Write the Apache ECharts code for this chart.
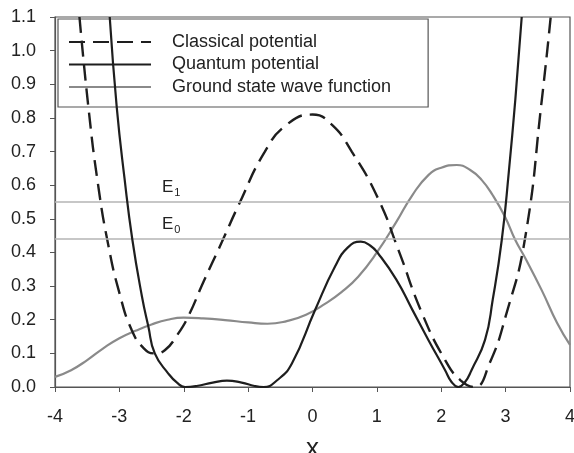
<!DOCTYPE html>
<html>
<head>
<meta charset="utf-8">
<script src="https://cdn.jsdelivr.net/npm/echarts@6/dist/echarts.min.js"></script>
<style>html,body{margin:0;padding:0;background:#fff}#c{width:574px;height:453px}</style>
</head>
<body>
<div id="c"></div>
<script>
const seriesNames = ['Classical potential', 'Quantum potential', 'Ground state wave function'];
const xTicks = [-4, -3, -2, -1, 0, 1, 2, 3, 4];
const energyLevels = [0.548, 0.442];
const energyLabels = ['1', '0'];

const classicalX = [-3.62,-3.48,-3.33,-3.17,-3.00,-2.81,-2.62,-2.45,-2.29,-2.10,-1.93,-1.70,-1.41,-1.15,-0.74,-0.40,0.00,0.30,0.61,1.02,1.33,1.70,2.06,2.30,2.52,2.75,3.00,3.30,3.56,3.70];
const classicalY = [1.10,0.83,0.60,0.42,0.28,0.17,0.115,0.10,0.11,0.155,0.21,0.31,0.43,0.54,0.70,0.78,0.81,0.78,0.70,0.56,0.41,0.22,0.08,0.02,0.00,0.07,0.21,0.44,0.85,1.10];

const quantumX = [-3.15,-3.04,-2.92,-2.80,-2.65,-2.55,-2.45,-2.24,-2.10,-1.98,-1.80,-1.55,-1.33,-1.10,-0.90,-0.76,-0.55,-0.32,0.04,0.35,0.55,0.75,0.90,1.02,1.30,1.55,1.80,2.06,2.16,2.265,2.37,2.47,2.68,2.80,2.94,3.05,3.15,3.25];
const quantumY = [1.10,0.83,0.62,0.44,0.27,0.18,0.10,0.04,0.012,0.00,0.003,0.013,0.019,0.013,0.003,0.00,0.02,0.07,0.229,0.358,0.415,0.432,0.42,0.397,0.32,0.23,0.14,0.05,0.015,0.00,0.015,0.05,0.14,0.26,0.437,0.64,0.853,1.10];

const groundX = [-4.00,-3.75,-3.50,-3.25,-3.00,-2.75,-2.50,-2.25,-2.00,-1.70,-1.36,-1.00,-0.70,-0.40,-0.10,0.20,0.45,0.71,1.00,1.30,1.55,1.80,2.00,2.24,2.45,2.63,2.80,2.99,3.15,3.30,3.56,3.80,4.00];
const groundY = [0.030,0.050,0.080,0.115,0.145,0.167,0.186,0.200,0.206,0.204,0.199,0.192,0.188,0.196,0.215,0.248,0.282,0.328,0.40,0.49,0.57,0.63,0.652,0.66,0.645,0.615,0.57,0.506,0.437,0.385,0.288,0.19,0.125];

const zip = (xs, ys) => xs.map((x, i) => [x, ys[i]]);
const font = 'Liberation Sans, Arial, sans-serif';

const chart = echarts.init(document.getElementById('c'), null, {renderer: 'canvas'});
chart.setOption({
  animation: false,
  backgroundColor: '#fff',
  grid: {left: 55, right: 4, top: 17, bottom: 66, containLabel: false, outerBoundsMode: 'none',
    show: true, borderColor: '#555', borderWidth: 1.2, backgroundColor: 'transparent'},
  legend: {
    left: 58, top: 19,
    orient: 'vertical',
    data: seriesNames,
    itemWidth: 82, itemHeight: 14, itemGap: 4.5,
    padding: [14, 37, 11, 10],
    borderColor: '#555', borderWidth: 1.2, backgroundColor: '#fff',
    itemStyle: {opacity: 0},
    textStyle: {fontFamily: font, fontSize: 18, lineHeight: 18, color: '#222', padding: [0, 0, 0, 16]}
  },
  xAxis: {
    type: 'value', min: -4, max: 4, interval: 1,
    name: 'x', nameLocation: 'middle', nameGap: 49,
    nameTextStyle: {fontFamily: font, fontSize: 26, color: '#222'},
    axisLine: {show: true, onZero: false, lineStyle: {color: '#555', width: 1.2}},
    axisTick: {show: true, inside: false, length: 5, lineStyle: {color: '#555'}},
    splitLine: {show: false},
    axisLabel: {fontFamily: font, fontSize: 18, color: '#222', margin: 21,
      formatter: v => xTicks.includes(v) ? String(v) : ''}
  },
  yAxis: {
    type: 'value', min: 0, max: 1.1, interval: 0.1,
    axisLine: {show: true, onZero: false, lineStyle: {color: '#555', width: 1.2}},
    axisTick: {show: true, inside: false, length: 5, lineStyle: {color: '#555'}},
    splitLine: {show: false},
    axisLabel: {fontFamily: font, fontSize: 18, color: '#222', margin: 19,
      formatter: v => v.toFixed(1)}
  },
  series: [
    {
      name: seriesNames[2], type: 'line', data: zip(groundX, groundY),
      smooth: 0.5, symbol: 'none', z: 3,
      lineStyle: {color: '#8a8a8a', width: 2.2},
      itemStyle: {color: '#8a8a8a'},
      markLine: {
        silent: true, symbol: 'none',
        lineStyle: {color: '#b5b5b5', width: 1.6, type: 'solid'},
        label: {
          show: true, position: 'insideStartTop', distance: 4,
          padding: [0, 0, 0, 103],
          formatter: p => '{e|E}{s|' + p.name + '}',
          rich: {
            e: {fontFamily: font, fontSize: 17, color: '#222'},
            s: {fontFamily: font, fontSize: 11, color: '#222', verticalAlign: 'bottom', padding: [10, 0, 0, 1]}
          }
        },
        data: energyLevels.map((v, i) => ({yAxis: v, name: energyLabels[i]}))
      }
    },
    {
      name: seriesNames[0], type: 'line', data: zip(classicalX, classicalY),
      smooth: 0.5, symbol: 'none', z: 4,
      lineStyle: {color: '#1e1e1e', width: 2.4, type: [16, 8]},
      itemStyle: {color: '#1e1e1e'}
    },
    {
      name: seriesNames[1], type: 'line', data: zip(quantumX, quantumY),
      smooth: 0.5, symbol: 'none', z: 5,
      lineStyle: {color: '#1e1e1e', width: 2.2},
      itemStyle: {color: '#1e1e1e'}
    }
  ]
});
</script>
</body>
</html>
